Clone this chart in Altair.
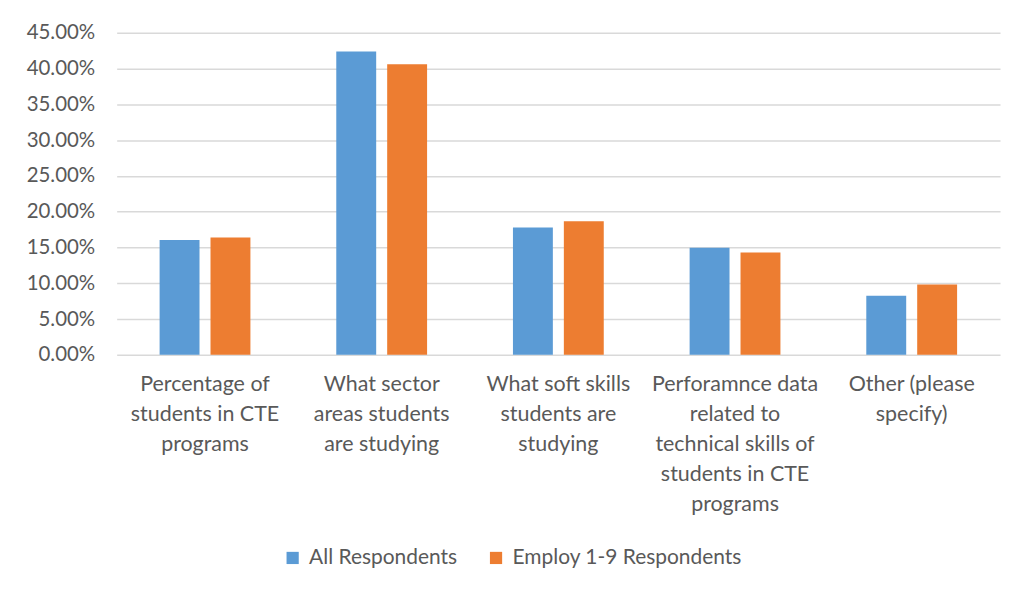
import altair as alt
import pandas as pd

category_lines = [
    ["Percentage of", "students in CTE", "programs"],
    ["What sector", "areas students", "are studying"],
    ["What soft skills", "students are", "studying"],
    ["Perforamnce data", "related to", "technical skills of", "students in CTE", "programs"],
    ["Other (please", "specify)"],
]
categories = ["|".join(l) for l in category_lines]
series_names = ["All Respondents", "Employ 1-9 Respondents"]
all_respondents = [0.1606, 0.4240, 0.1780, 0.1495, 0.0826]
employ_1_9 = [0.1640, 0.4060, 0.1866, 0.1430, 0.0984]
y_ticks = [0.0, 0.05, 0.10, 0.15, 0.20, 0.25, 0.30, 0.35, 0.40, 0.45]
colors = ["#5b9bd5", "#ed7d31"]

rows = []
for c, a, e in zip(categories, all_respondents, employ_1_9):
    rows.append({"category": c, "series": series_names[0], "value": a})
    rows.append({"category": c, "series": series_names[1], "value": e})
df = pd.DataFrame(rows)

FONT = "Lato"
TXT = "#595959"

chart = alt.Chart(df).mark_bar().encode(
    x=alt.X("category:N", sort=categories, title=None,
            scale=alt.Scale(paddingInner=0.486, paddingOuter=0.243),
            axis=alt.Axis(labelExpr="split(datum.label, '|')", labelAngle=0,
                          labelFont=FONT, labelFontSize=21.5, labelColor=TXT,
                          labelLineHeight=30, labelPadding=19, ticks=False,
                          domain=False, labelLimit=300, labelBaseline="top",
                          grid=False)),
    xOffset=alt.XOffset("series:N", sort=series_names,
                        scale=alt.Scale(paddingInner=0.216, paddingOuter=0)),
    y=alt.Y("value:Q", title=None,
            scale=alt.Scale(domain=[0, 0.45], nice=False),
            axis=alt.Axis(values=y_ticks, format=".2%", labelFont=FONT,
                          labelFontSize=20.5, labelColor=TXT, labelPadding=22,
                          ticks=False, domain=False, gridColor="#d9d9d9",
                          gridWidth=1.5)),
    color=alt.Color("series:N", sort=series_names,
                    scale=alt.Scale(domain=series_names, range=colors),
                    legend=alt.Legend(title=None, orient="none", direction="horizontal",
                                      legendX=166, legendY=516, symbolType="square",
                                      symbolSize=150, symbolStrokeWidth=0,
                                      labelFont=FONT, labelFontSize=21,
                                      labelColor=TXT, columnPadding=28,
                                      labelOffset=6, labelLimit=400)),
).properties(
    width=886, height=323,
    background="white",
    autosize=alt.AutoSizeParams(type="none"),
    padding={"left": 109, "top": 24, "right": 10, "bottom": 220},
).configure_view(stroke=None)

chart.save("out.html", embed_options={"renderer": "svg", "actions": False})
